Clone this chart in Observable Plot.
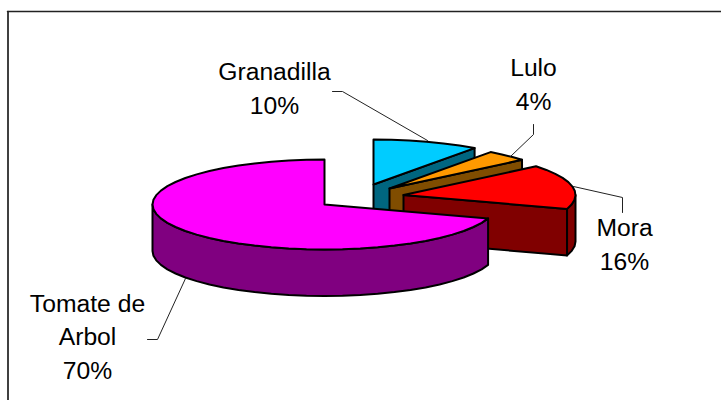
<!DOCTYPE html>
<html>
<head>
<meta charset="utf-8">
<script src="https://cdn.jsdelivr.net/npm/d3@7"></script>
<script src="https://cdn.jsdelivr.net/npm/@observablehq/plot@0.6"></script>
<style>html,body{margin:0;padding:0;background:#fff}svg{display:block}</style>
</head>
<body>
<div id="chart"></div>
<script>
// Data, clockwise from 12 o'clock
const categories = ["Granadilla", "Lulo", "Mora", "Tomate de Arbol"];
const shares = [10, 4, 16, 70];
const labelLines = ["Granadilla\n10%", "Lulo\n4%", "Mora\n16%", "Tomate de\nArbol\n70%"];
const topColors = ["#00CCFF", "#FF9900", "#FF0000", "#FF00FF"];
const sideColors = ["#006680", "#804D00", "#800000", "#800080"];

// Layout of the 3D pie
const apexX = [373, 389, 403, 324];
const apexY = [184, 188, 194.5, 204];
const radiusX = 172, radiusY = 45, depth = 46.5;
const labelX = [274, 533, 624, 87];
const labelY = [86, 82, 242, 334];
const leaders = [
  [[332, 91], [342, 91], [427, 140]],
  [[533, 124], [533, 134], [510, 156]],
  [[573, 186], [622, 197], [622, 212]],
  [[185, 278], [157, 339], [147, 339]]
];

const total = d3.sum(shares);
const ends = d3.cumsum(shares).map(v => v / total * 360);
const starts = ends.map((_, i) => i ? ends[i - 1] : 0);
const rad = d => d * Math.PI / 180;

function rim(i, deg, drop = 0) {
  return {
    x: apexX[i] + radiusX * Math.sin(rad(deg)),
    y: apexY[i] - radiusY * Math.cos(rad(deg)) + drop
  };
}
function arc(i, a, b, drop = 0) {
  const n = Math.max(1, Math.ceil(Math.abs(b - a) / 6));
  return d3.range(n + 1).map(k => rim(i, a + (b - a) * k / n, drop));
}
const apex = (i, drop = 0) => ({x: apexX[i], y: apexY[i] + drop});
const closed = pts => [...pts, pts[0]];
const polygon = (pts, fill, sw = 2) =>
  Plot.line(closed(pts), {x: "x", y: "y", fill, stroke: "#000", strokeWidth: sw, curve: "linear", strokeLinejoin: "round"});

const marks = [];
// Frame: left and top edges only, the right edge lies outside the picture
marks.push(Plot.line([{x: 7.5, y: 400}, {x: 7.5, y: 11}], {x: "x", y: "y", stroke: "#000", strokeWidth: 1.5, curve: "linear"}));
marks.push(Plot.line([{x: 7, y: 11}, {x: 721, y: 11}], {x: "x", y: "y", stroke: "#222", strokeWidth: 1.5, curve: "linear"}));

categories.forEach((_, i) => {
  const a = starts[i], b = ends[i];
  // cut face on the clockwise side, when it faces the viewer
  if (b < 180) {
    marks.push(polygon([apex(i), rim(i, b), rim(i, b, depth), apex(i, depth)], sideColors[i]));
  }
  // outer wall, the part in front of the ellipse's widest line
  const wa = Math.max(a, 90), wb = Math.min(b, 270);
  if (wa < wb) {
    marks.push(polygon([...arc(i, wa, wb), ...arc(i, wb, wa, depth)], sideColors[i]));
  }
  // top surface
  marks.push(polygon([apex(i), ...arc(i, a, b)], topColors[i]));
});

// Leader lines
leaders.forEach(pts => {
  marks.push(Plot.line(pts.map(([x, y]) => ({x, y})),
    {x: "x", y: "y", stroke: "#222", strokeWidth: 1, curve: "linear"}));
});

// Labels
marks.push(Plot.text(labelLines, {
  x: (_, i) => labelX[i],
  y: (_, i) => labelY[i],
  text: d => d,
  fontFamily: "Liberation Sans",
  fontSize: 24.7,
  lineHeight: 1.36,
  fill: "#000",
  textAnchor: "middle"
}));

const chart = Plot.plot({
  width: 721,
  height: 400,
  margin: 0,
  x: {domain: [0, 721], range: [0, 721], axis: null},
  y: {domain: [0, 400], range: [0, 400], axis: null},
  style: {background: "#fff"},
  marks
});
document.getElementById("chart").append(chart);
</script>
</body>
</html>
